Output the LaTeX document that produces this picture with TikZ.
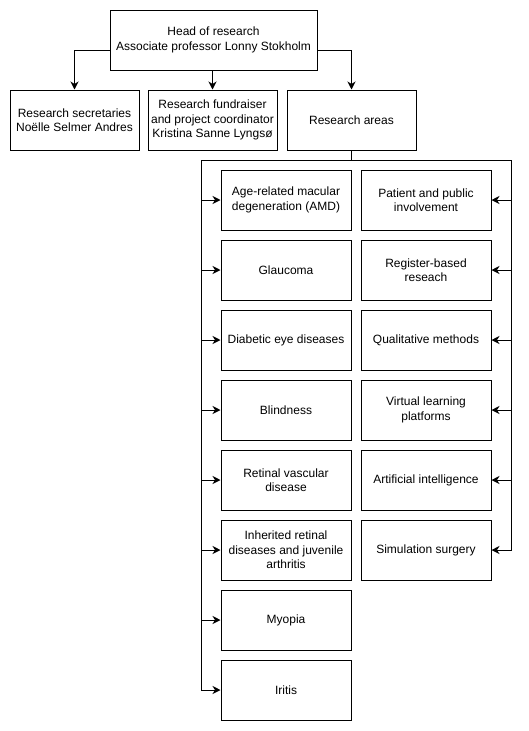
\documentclass[tikz,border=0pt]{standalone}
\usepackage{fontspec}
\setmainfont{Liberation Sans}
\usetikzlibrary{arrows.meta}
\begin{document}
\begin{tikzpicture}[x=1pt,y=-1pt,
  box/.style={draw,line width=1pt,inner sep=0pt,minimum height=60pt,align=center,
    font=\fontsize{12}{14.5}\selectfont},
  cbox/.style={box,minimum width=130pt},
  arr/.style={line width=1pt,-{Stealth[length=8pt,width=8pt,inset=2.5pt]}},
  ln/.style={line width=1pt}]
\useasboundingbox (0,0) rectangle (529,731);
\node[box,minimum width=207pt] (head) at (213.5,40) {Head of research\\Associate professor Lonny Stokholm};
\node[box,minimum width=129pt] (sec) at (74.5,120) {Research secretaries\\Noëlle Selmer Andres};
\node[box,minimum width=129pt] (fund) at (212.5,120) {Research fundraiser\\and project coordinator\\Kristina Sanne Lyngsø};
\node[box,minimum width=129pt] (areas) at (351.5,120) {Research areas};
\draw[arr] ([yshift=-10pt]head.west) -| (sec.north);
\draw[arr] (fund.north |- head.south) -- (fund.north);
\draw[arr] ([yshift=-10pt]head.east) -| (areas.north);
% left column
\node[cbox] (l1) at (286,200) {Age-related macular\\degeneration (AMD)};
\node[cbox] (l2) at (286,270) {Glaucoma};
\node[cbox] (l3) at (286,340) {Diabetic eye diseases};
\node[cbox] (l4) at (286,410) {Blindness};
\node[cbox] (l5) at (286,480) {Retinal vascular\\disease};
\node[cbox] (l6) at (286,550) {Inherited retinal\\diseases and juvenile\\arthritis};
\node[cbox] (l7) at (286,620) {Myopia};
\node[cbox] (l8) at (286,690) {Iritis};
% right column
\node[cbox] (r1) at (426,200) {Patient and public\\involvement};
\node[cbox] (r2) at (426,270) {Register-based\\reseach};
\node[cbox] (r3) at (426,340) {Qualitative methods};
\node[cbox] (r4) at (426,410) {Virtual learning\\platforms};
\node[cbox] (r5) at (426,480) {Artificial intelligence};
\node[cbox] (r6) at (426,550) {Simulation surgery};
\coordinate (busL) at (201,160);
\coordinate (busR) at (511,160);
\draw[ln] (areas.south) -- (areas.south |- busL);
\draw[ln] (busL) -- (busR);
\foreach \n in {l1,l2,l3,l4,l5,l6,l7,l8} \draw[arr] (busL) |- (\n.west);
\foreach \n in {r1,r2,r3,r4,r5,r6} \draw[arr] (busR) |- (\n.east);
\end{tikzpicture}
\end{document}
